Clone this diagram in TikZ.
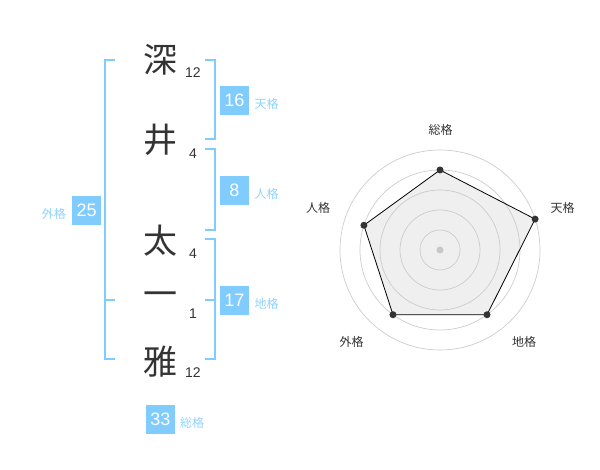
\documentclass[tikz,border=0pt]{standalone}
\usepackage{fontspec}
\setmainfont{Liberation Sans}
\newfontfamily\cjk{Noto Sans CJK JP}
\definecolor{lblue}{HTML}{80CCFF}
\definecolor{tblue}{HTML}{8ED3FF}
\definecolor{ink}{HTML}{333333}
\definecolor{polyfill}{HTML}{EFEFEF}
\begin{document}
\begin{tikzpicture}[x=1pt,y=-1pt,
 kanji/.style={font=\cjk\fontsize{34}{34}\selectfont, text=ink, inner sep=0},
 strokes/.style={font=\fontsize{14}{14}\selectfont, text=ink, inner sep=0},
 numbox/.style={fill=lblue, text=white, minimum size=29pt, inner sep=0, font=\fontsize{18}{18}\selectfont},
 kaku/.style={font=\cjk\fontsize{12}{12}\selectfont, text=tblue, inner sep=0},
 brk/.style={draw=lblue, line width=2pt},
 ring/.style={draw=black!20, line width=0.7pt},
 axl/.style={font=\cjk\fontsize{12}{12}\selectfont, text=ink, inner sep=0},
 vdot/.style={circle, fill=ink, inner sep=0, minimum size=7pt}]
\useasboundingbox (0,0) rectangle (600,470);
% characters
\node[kanji] (k1) at (160,60) {深};
\node[kanji] (k2) at (160,140) {井};
\node[kanji] (k3) at (160,241) {太};
\node[kanji] (k4) at (160,299) {一};
\node[kanji] (k5) at (160,362) {雅};
\node[strokes] (s1) at (193,72.7) {12};
\node[strokes] (s2) at (193,153.3) {4};
\node[strokes] (s3) at (193,253.3) {4};
\node[strokes] (s4) at (193,313.3) {1};
\node[strokes] (s5) at (193,372.7) {12};
% brackets
\draw[brk] (115,60) -- (105,60) -- (105,359.5) -- (115,359.5);
\draw[brk] (105,300) -- (115,300);
\draw[brk] (205,60) -- (215,60) -- (215,139.5) -- (205,139.5);
\draw[brk] (205,149.5) -- (215,149.5) -- (215,230) -- (205,230);
\draw[brk] (205,239.5) -- (215,239.5) -- (215,359.5) -- (205,359.5);
\draw[brk] (205,300) -- (215,300);
% boxes
\node[numbox] (b16) at (234.3,100.3) {16};
\node[kaku, anchor=west] (l16) at (254.5,104) {天格};
\node[numbox] (b8) at (234.3,190.3) {8};
\node[kaku, anchor=west] (l8) at (254.5,194) {人格};
\node[numbox] (b17) at (234.3,300.3) {17};
\node[kaku, anchor=west] (l17) at (254.5,304) {地格};
\node[numbox] (b25) at (86.7,210.3) {25};
\node[kaku, anchor=east] (l25) at (66,214) {外格};
\node[numbox] (b33) at (160.3,419.3) {33};
\node[kaku, anchor=west] (l33) at (180,422.5) {総格};
% radar
\coordinate (c) at (440,250);
\coordinate (q1) at ({440+80*cos(90)},{250-80*sin(90)});
\coordinate (q2) at ({440+100*cos(18)},{250-100*sin(18)});
\coordinate (q3) at ({440+80*cos(-54)},{250-80*sin(-54)});
\coordinate (q4) at ({440+80*cos(-126)},{250-80*sin(-126)});
\coordinate (q5) at ({440+80*cos(162)},{250-80*sin(162)});
\fill[polyfill] (q1) -- (q2) -- (q3) -- (q4) -- (q5) -- cycle;
\foreach \r in {20,40,60,80,100} \draw[ring] (c) circle[radius=\r];
\draw[black, line width=0.8pt] (q1) -- (q2) -- (q3) -- (q4) -- (q5) -- cycle;
\node[vdot] (p1) at (q1) {};
\node[vdot] (p2) at (q2) {};
\node[vdot] (p3) at (q3) {};
\node[vdot] (p4) at (q4) {};
\node[vdot] (p5) at (q5) {};
\node[vdot, fill=black!22] (p0) at (c) {};
\node[axl] (a1) at (440.7,130) {総格};
\node[axl] (a2) at (562.7,208) {天格};
\node[axl] (a3) at (318,208) {人格};
\node[axl] (a4) at (351.7,341.7) {外格};
\node[axl] (a5) at (524,341.7) {地格};
\end{tikzpicture}
\end{document}
